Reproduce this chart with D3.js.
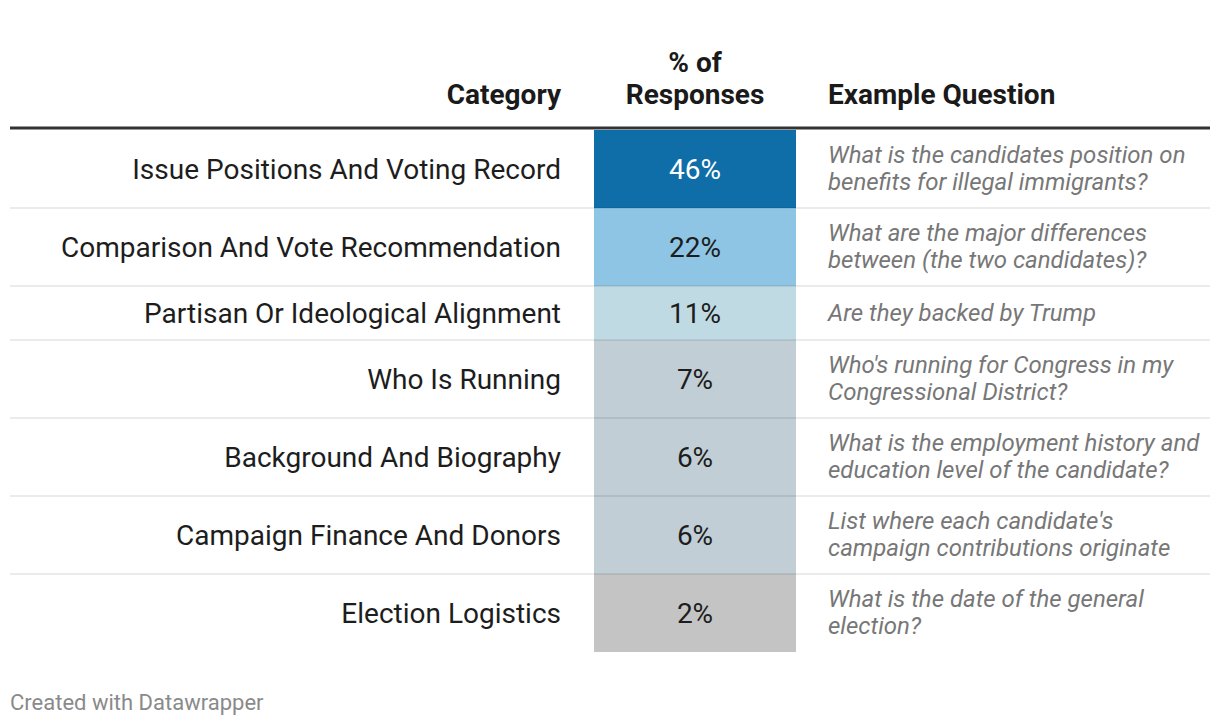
<!DOCTYPE html>
<html>
<head>
<meta charset="utf-8">
<script src="https://cdn.jsdelivr.net/npm/d3@7"></script>
<style>
  html, body { margin: 0; padding: 0; background: #fff; }
  svg text { font-family: Roboto, "Noto Sans", sans-serif; }
</style>
</head>
<body>
<svg id="chart" width="1220" height="726"></svg>
<script>
// data
const categories = [
  "Issue Positions And Voting Record",
  "Comparison And Vote Recommendation",
  "Partisan Or Ideological Alignment",
  "Who Is Running",
  "Background And Biography",
  "Campaign Finance And Donors",
  "Election Logistics"
];
const shares = [46, 22, 11, 7, 6, 6, 2];
const questions = [
  ["What is the candidates position on", "benefits for illegal immigrants?"],
  ["What are the major differences", "between (the two candidates)?"],
  ["Are they backed by Trump"],
  ["Who's running for Congress in my", "Congressional District?"],
  ["What is the employment history and", "education level of the candidate?"],
  ["List where each candidate's", "campaign contributions originate"],
  ["What is the date of the general", "election?"]
];
const headers = [["Category"], ["% of", "Responses"], ["Example Question"]];

function drawTable() {
  const svg = d3.select("#chart");

  const left = 10, right = 1210;
  const catX = 561;          // right edge of category text
  const cellX0 = 594, cellX1 = 796;
  const qX = 828;
  const top = 130;

  // colour of the % cell, stepped like datawrapper's buckets
  const color = d3.scaleThreshold()
    .domain([3, 10, 15, 30])
    .range(["#c4c4c4", "#c1ced6", "#c0dae4", "#8ec5e4", "#0f6ea8"]);

  // row heights depend on how many lines the question wraps to
  const rows = categories.map((c, i) => ({
    cat: c, v: shares[i], q: questions[i],
    h: questions[i].length > 1 ? 78 : 54
  }));
  let y = top;
  rows.forEach(r => { r.y = y; y += r.h; });

  // header
  const hdr = svg.append("g").attr("font-weight", 700).attr("font-size", 28).attr("fill", "#1a1a1a");
  const hx = [catX, (cellX0 + cellX1) / 2, qX];
  const ha = ["end", "middle", "start"];
  headers.forEach((lines, i) => {
    lines.forEach((t, j) => {
      hdr.append("text")
        .attr("x", hx[i])
        .attr("y", 104 - (lines.length - 1 - j) * 32)
        .attr("text-anchor", ha[i])
        .text(t);
    });
  });

  // cells
  const g = svg.append("g");
  const row = g.selectAll("g.row").data(rows).enter().append("g").attr("class", "row")
    .attr("transform", d => `translate(0,${d.y})`);

  row.append("rect")
    .attr("x", cellX0).attr("y", 0)
    .attr("width", cellX1 - cellX0)
    .attr("height", d => d.h)
    .attr("fill", d => color(d.v));

  row.append("text")
    .attr("x", catX).attr("y", d => d.h / 2 + 9.5)
    .attr("text-anchor", "end")
    .attr("font-size", 28).attr("fill", "#1d1d1d")
    .text(d => d.cat);

  row.append("text")
    .attr("x", (cellX0 + cellX1) / 2).attr("y", d => d.h / 2 + 9.5)
    .attr("text-anchor", "middle")
    .attr("font-size", 28)
    .attr("fill", d => d.v >= 30 ? "#ffffff" : "#1d1d1d")
    .text(d => d.v + "%");

  row.each(function(d) {
    const n = d.q.length;
    d3.select(this).selectAll("text.q").data(d.q).enter().append("text")
      .attr("class", "q")
      .attr("x", qX)
      .attr("y", (t, j) => d.h / 2 + 7.5 + (j - (n - 1) / 2) * 27)
      .attr("font-size", 24).attr("font-style", "italic").attr("fill", "#777")
      .text(t => t);
  });

  // row dividers
  g.selectAll("line.div").data(rows.slice(1)).enter().append("line")
    .attr("x1", left).attr("x2", right)
    .attr("y1", d => d.y).attr("y2", d => d.y)
    .attr("stroke", "rgba(0,0,0,0.08)").attr("stroke-width", 2);

  // header rule
  svg.append("line")
    .attr("x1", left).attr("x2", right)
    .attr("y1", 128).attr("y2", 128)
    .attr("stroke", "#333").attr("stroke-width", 3);

  // footer
  svg.append("text")
    .attr("x", 10).attr("y", 710)
    .attr("font-size", 22).attr("fill", "#8a8a8a")
    .text("Created with Datawrapper");
}

drawTable();
</script>
</body>
</html>
